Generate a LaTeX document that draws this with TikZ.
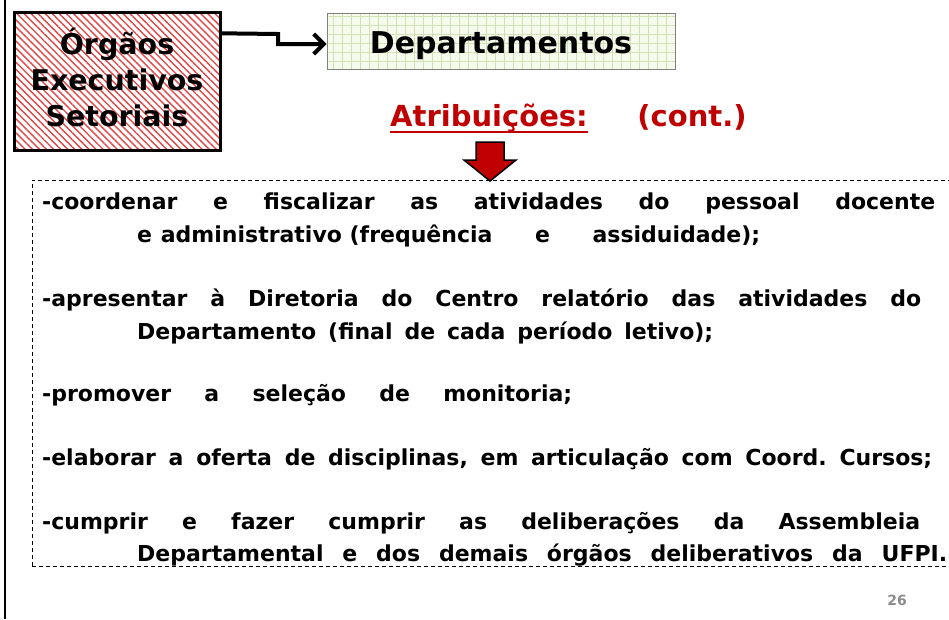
\documentclass[tikz,border=0pt]{standalone}
\usepackage{fontspec}
\newfontfamily\comic{DejaVu Sans}[BoldFont=DejaVu Sans Bold]
\usetikzlibrary{patterns.meta,arrows.meta}
\definecolor{dred}{RGB}{192,0,0}
\definecolor{hatchred}{RGB}{225,70,70}
\definecolor{gridbg}{RGB}{246,250,236}
\definecolor{gridln}{RGB}{208,226,180}
\definecolor{pgnum}{RGB}{140,140,140}
\tikzset{
  body/.style={anchor=base west,inner sep=0pt,font=\comic\bfseries\fontsize{22}{26}\selectfont\frenchspacing},
  title/.style={font=\comic\bfseries\fontsize{28.5}{36}\selectfont,align=center,inner sep=0pt},
}
\begin{document}
\begin{tikzpicture}[x=1pt,y=-1pt]
\useasboundingbox (0,0) rectangle (949,619);
\fill[white] (0,0) rectangle (949,619);
\draw[line width=2pt] (5,0) -- (5,619);
% Orgaos box
\node[draw,line width=3pt,minimum width=206pt,minimum height=138pt,
  preaction={fill=white},pattern={Lines[angle=-45,distance=5pt,line width=1.4pt]},pattern color=hatchred,
  inner sep=0pt] (org) at (117,81) {};
\node[title] (orgt) at (117,77) {Órgãos\\Executivos\\Setoriais};
% Departamentos box
\node[draw=gray,line width=0.8pt,minimum width=348pt,minimum height=56pt,
  preaction={fill=gridbg},pattern={Hatch[distance=9pt,line width=0.9pt]},pattern color=gridln,
  inner sep=0pt] (dep) at (501,41) {};
\node[font=\comic\bfseries\fontsize{30}{34}\selectfont,anchor=base,inner sep=0pt] (dept) at (501,53) {Departamentos};
\coordinate (a1) at ([yshift=-22pt]org.north east);
\coordinate (a2) at (278,34);
\coordinate (a3) at (278,44);
\draw[line width=4pt,-{Straight Barb[length=10pt,width=20pt,line width=4pt]}]
  (a1) -- (a2) -- (a3) -- (dep.west |- a3);
% Atribuicoes
\node[text=dred,font=\comic\bfseries\fontsize{29}{32}\selectfont,anchor=base,inner sep=0pt] (atr) at (489,126) {Atribuições:};
\node[text=dred,font=\comic\bfseries\fontsize{29}{32}\selectfont,anchor=base,inner sep=0pt] (cont) at (692,126) {(cont.)};
\draw[dred,line width=2pt] (atr.west |- 0,132) -- (atr.east |- 0,132);
% red arrow
\draw[fill=dred,line width=1.5pt,line join=miter] (476,142) -- (504,142) -- (504,160) -- (516,160) -- (490,181) -- (464,160) -- (476,160) -- cycle;
% dashed box
\draw[dash pattern=on 4pt off 3pt,line width=0.8pt] (32,566) -- (32,180) -- (960,180);
\draw[dash pattern=on 4pt off 3pt,line width=0.8pt] (32,566) -- (960,566);
% body lines
\node[body] (l1) at (42,209) {\makebox[893pt][s]{-coordenar e fiscalizar as atividades do pessoal docente}};
\node[body] (l2) at (137,242) {\makebox[623pt][s]{e\hspace{0.4em}administrativo (frequência\hfill e\hfill assiduidade);}};
\node[body] (l3) at (42,306) {\makebox[879pt][s]{-apresentar à Diretoria do Centro relatório das atividades do}};
\node[body] (l4) at (137,339) {\makebox[576pt][s]{Departamento (final de cada período letivo);}};
\node[body] (l5) at (42,401) {\makebox[530pt][s]{-promover a seleção de monitoria;}};
\node[body] (l6) at (42,465) {\makebox[890pt][s]{-elaborar a oferta de disciplinas, em articulação com Coord. Cursos;}};
\node[body] (l7) at (42,529) {\makebox[878pt][s]{-cumprir e fazer cumprir as deliberações da Assembleia}};
\node[body] (l8) at (137,561) {\makebox[810pt][s]{Departamental e dos demais órgãos deliberativos da UFPI.}};
\node[text=pgnum,font=\comic\bfseries\fontsize{14}{16}\selectfont,anchor=base] (pg) at (897,605) {26};
\end{tikzpicture}
\end{document}
